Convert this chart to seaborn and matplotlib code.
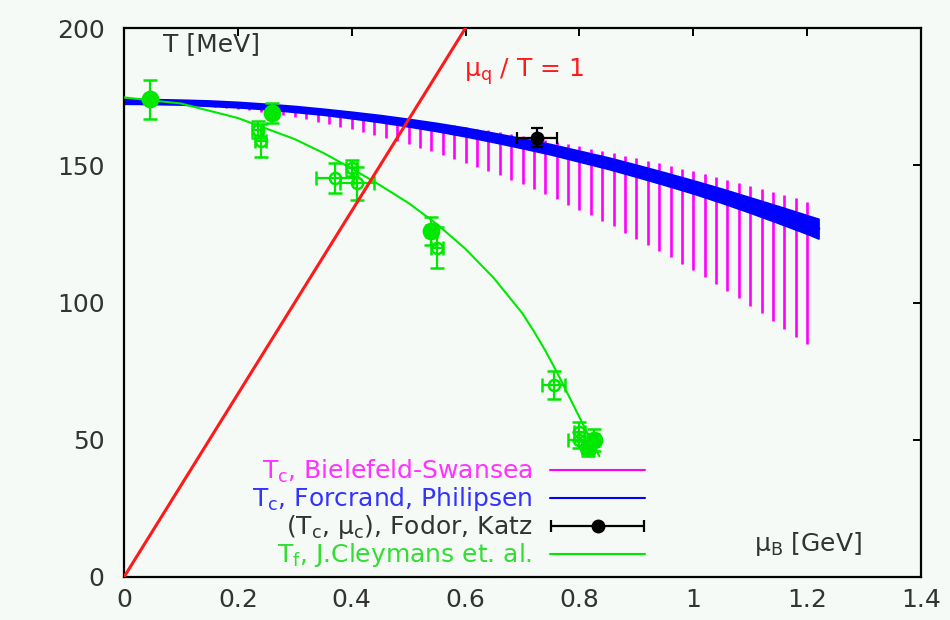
import matplotlib
matplotlib.use("Agg")
import numpy as np
import pandas as pd
import seaborn as sns
import matplotlib.pyplot as plt
from matplotlib.lines import Line2D
from matplotlib.legend_handler import HandlerErrorbar

# ---------------- data ----------------
# Bielefeld-Swansea band: vertical bars (lower / upper bound of T_c)
bs_mu = [0.00, 0.02, 0.04, 0.06, 0.08, 0.10, 0.12, 0.14, 0.16, 0.18,
         0.20, 0.22, 0.24, 0.26, 0.28, 0.30, 0.32, 0.34, 0.36, 0.38,
         0.40, 0.42, 0.44, 0.46, 0.48, 0.50, 0.52, 0.54, 0.56, 0.58,
         0.60, 0.62, 0.64, 0.66, 0.68, 0.70, 0.72, 0.74, 0.76, 0.78,
         0.80, 0.82, 0.84, 0.86, 0.88, 0.90, 0.92, 0.94, 0.96, 0.98,
         1.00, 1.02, 1.04, 1.06, 1.08, 1.10, 1.12, 1.14, 1.16, 1.18, 1.20]
bs_low = [173.0, 173.0, 172.9, 172.8, 172.6, 172.4, 172.1, 171.8, 171.4, 171.0,
          170.5, 170.0, 169.5, 168.9, 168.2, 167.5, 166.7, 165.9, 165.1, 164.1,
          163.2, 162.2, 161.1, 160.0, 158.9, 157.7, 156.4, 155.1, 153.8, 152.4,
          150.9, 149.4, 147.9, 146.3, 144.7, 143.0, 141.2, 139.4, 137.6, 135.7,
          133.8, 131.8, 129.7, 127.7, 125.5, 123.3, 121.1, 118.8, 116.5, 114.1,
          111.7, 109.2, 106.7, 104.1, 101.5, 98.8, 96.1, 93.3, 90.5, 87.6, 84.7]
bs_high = [173.0, 173.0, 173.0, 172.9, 172.8, 172.7, 172.6, 172.5, 172.4, 172.2,
           172.0, 171.8, 171.5, 171.3, 171.0, 170.7, 170.4, 170.1, 169.7, 169.4,
           169.0, 168.6, 168.1, 167.7, 167.2, 166.7, 166.2, 165.7, 165.1, 164.5,
           163.9, 163.3, 162.7, 162.0, 161.3, 160.7, 159.9, 159.2, 158.4, 157.7,
           156.9, 156.1, 155.2, 154.4, 153.5, 152.6, 151.7, 150.7, 149.8, 148.8,
           147.8, 146.8, 145.7, 144.7, 143.6, 142.5, 141.4, 140.3, 139.1, 137.9, 136.7]

# Forcrand-Philipsen band: centre and half width
fp_mu = [0.00, 0.05, 0.10, 0.15, 0.20, 0.25, 0.30, 0.35, 0.40, 0.45, 0.50, 0.55, 0.60,
         0.65, 0.70, 0.75, 0.80, 0.85, 0.90, 0.95, 1.00, 1.05, 1.10, 1.15, 1.20, 1.22]
fp_T = [173.3, 173.2, 173.0, 172.6, 172.1, 171.4, 170.5, 169.5, 168.3, 167.0, 165.5, 163.9, 162.1,
        160.1, 158.0, 155.8, 153.3, 150.8, 148.0, 145.1, 142.1, 138.9, 135.5, 132.0, 128.4, 126.9]
fp_dT = [0.9, 0.9, 0.9, 1.0, 1.0, 1.0, 1.1, 1.1, 1.2, 1.3, 1.4, 1.5, 1.6,
         1.7, 1.8, 1.9, 2.0, 2.1, 2.2, 2.3, 2.4, 2.6, 2.8, 3.1, 3.4, 3.6]

# Fodor-Katz critical point
fk_mu = [0.725]
fk_T = [160.0]
fk_muerr = [0.035]
fk_Terr = [3.5]

# Cleymans freeze-out curve
cl_mu = [0.00, 0.10, 0.20, 0.30, 0.35, 0.40, 0.45, 0.50, 0.55, 0.60, 0.65,
         0.70, 0.72, 0.74, 0.76, 0.78, 0.80, 0.82, 0.835]
cl_T = [174.7, 172.5, 167.2, 159.5, 154.5, 148.8, 142.7, 136.2, 128.5, 119.5, 108.8,
        96.0, 89.5, 82.5, 74.8, 66.5, 58.2, 50.0, 44.0]

# Freeze-out data points
fo_mu = [0.045, 0.235, 0.240, 0.260, 0.370, 0.400, 0.410, 0.540, 0.550, 0.755, 0.800, 0.800, 0.815, 0.825]
fo_T = [174.0, 163.0, 159.0, 169.0, 145.5, 149.0, 143.5, 126.0, 120.0, 70.0, 53.0, 50.0, 47.0, 50.0]
fo_Terr = [7.0, 3.0, 6.0, 3.5, 5.5, 3.0, 6.0, 5.0, 7.5, 5.0, 3.5, 3.0, 3.0, 4.0]
fo_muerr = [0.0, 0.01, 0.01, 0.0, 0.033, 0.01, 0.03, 0.01, 0.01, 0.02, 0.01, 0.02, 0.01, 0.01]
fo_filled = [True, False, False, True, False, False, False, True, False, False, False, False, True, True]

# mu_q / T = 1 line
red_mu = [0.0, 0.6]
red_T = [0.0, 200.0]

x_ticks = [0, 0.2, 0.4, 0.6, 0.8, 1.0, 1.2, 1.4]
x_ticklabels = ["0", "0.2", "0.4", "0.6", "0.8", "1", "1.2", "1.4"]
y_ticks = [0, 50, 100, 150, 200]

labels = ["T$_c$, Bielefeld-Swansea", "T$_c$, Forcrand, Philipsen",
          "(T$_c$, μ$_c$), Fodor, Katz", "T$_f$, J.Cleymans et. al."]

# ---------------- style ----------------
BG = "#f5faf7"
MAG = "#ff00ff"
BLUE = "#0000ff"
GREEN = "#00e800"
RED = "#ff1a1a"
BLACK = "#000000"
FS = 18

sns.set_theme(style="white")
plt.rcParams["font.family"] = ["DejaVu Sans"]
plt.rcParams["mathtext.default"] = "regular"

fig = plt.figure(figsize=(9.5, 6.2), dpi=100, facecolor=BG)
ax = fig.add_axes([124 / 950, 1 - 577 / 620, (921 - 124) / 950, (577 - 28) / 620])
ax.set_facecolor(BG)

# Bielefeld-Swansea bars
ax.vlines(bs_mu, bs_low, bs_high, colors=MAG, linewidth=1.9, zorder=1)

# Forcrand-Philipsen band
fp = pd.DataFrame({"mu": fp_mu, "T": fp_T, "dT": fp_dT})
ax.fill_between(fp["mu"], fp["T"] - fp["dT"], fp["T"] + fp["dT"], color=BLUE,
                linewidth=1.2, edgecolor=BLUE, zorder=2)
sns.lineplot(data=fp, x="mu", y="T", color=BLUE, linewidth=2.5, ax=ax, zorder=2)

# Cleymans curve and points
cl = pd.DataFrame({"mu": cl_mu, "T": cl_T})
sns.lineplot(data=cl, x="mu", y="T", color=GREEN, linewidth=1.5, ax=ax, zorder=3)

fo = pd.DataFrame({"mu": fo_mu, "T": fo_T, "Terr": fo_Terr, "muerr": fo_muerr, "filled": fo_filled})
for filled, sub in fo.groupby("filled"):
    ax.errorbar(sub["mu"], sub["T"], yerr=sub["Terr"], xerr=sub["muerr"], fmt="o",
                color=GREEN, ecolor=GREEN, elinewidth=1.6, capsize=5, capthick=1.6,
                markersize=11 if filled else 8, markeredgewidth=1.8,
                markerfacecolor=GREEN if filled else "none", zorder=3)

# mu_q/T = 1 line
sns.lineplot(x=red_mu, y=red_T, color=RED, linewidth=2.2, ax=ax, zorder=4)

# Fodor-Katz point
fk = ax.errorbar(fk_mu, fk_T, xerr=fk_muerr, yerr=fk_Terr, fmt="o", color=BLACK,
                 markersize=9, elinewidth=1.6, capsize=4, capthick=1.6, zorder=5)

# axes
ax.set_xlim(0, 1.4)
ax.set_ylim(0, 200)
ax.set_xticks(x_ticks)
ax.set_xticklabels(x_ticklabels)
ax.set_yticks(y_ticks)
ax.set_xlabel("")
ax.set_ylabel("")
for s in ax.spines.values():
    s.set_color("black")
    s.set_linewidth(1.6)
ax.tick_params(direction="in", length=6, width=1.4, top=True, right=True,
               labelsize=FS, labelcolor="#333333", color="black")
ax.tick_params(axis="y", pad=14)
ax.tick_params(axis="x", pad=8)
ax.grid(False)

# annotations
ax.text(0.068, 194, "T [MeV]", fontsize=FS, color="#333333", ha="left", va="center")
ax.text(1.107, 12, "μ$_B$ [GeV]", fontsize=FS, color="#333333", ha="left", va="center")
ax.text(0.598, 184, "μ$_q$ / T = 1", fontsize=FS, color=RED, ha="left", va="center")

# legend
handles = [Line2D([], [], color=MAG, linewidth=1.5),
           Line2D([], [], color=BLUE, linewidth=1.5),
           fk,
           Line2D([], [], color=GREEN, linewidth=1.5)]
leg = ax.legend(handles, labels, loc="lower right", bbox_to_anchor=(0.654, 0.014),
                frameon=False, markerfirst=False, fontsize=FS, handlelength=3.8,
                handletextpad=0.7, labelspacing=0.0, borderpad=0, borderaxespad=0,
                numpoints=1,
                handler_map={type(fk): HandlerErrorbar(xerr_size=1.85, yerr_size=0.0001)})
for t, c in zip(leg.get_texts(), ["#ff33ff", "#3333ff", "#333333", "#33dd33"]):
    t.set_color(c)

fig.savefig("out.png", dpi=100, facecolor=BG)
